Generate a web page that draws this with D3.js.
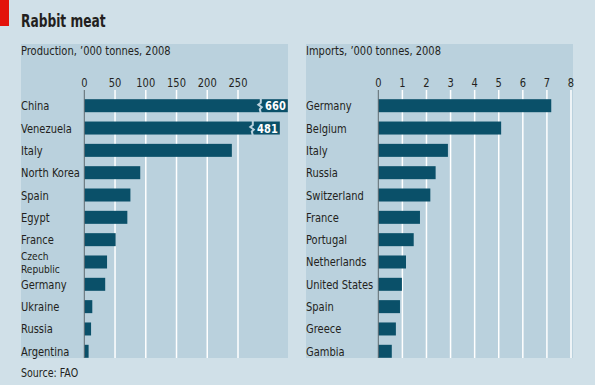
<!DOCTYPE html>
<html>
<head>
<meta charset="utf-8">
<script src="https://cdn.jsdelivr.net/npm/d3@7"></script>
<style>
  body { margin: 0; background: #d0e0e8; }
  svg { display: block; }
  text { font-family: "DejaVu Sans Condensed", "DejaVu Sans", sans-serif; font-stretch: condensed; fill: #231f20; }
</style>
</head>
<body>
<div id="chart"></div>
<script>
// Production, '000 tonnes, 2008
var prodCountries = ["China", "Venezuela", "Italy", "North Korea", "Spain", "Egypt",
  "France", "Czech Republic", "Germany", "Ukraine", "Russia", "Argentina"];
var prodValues = [660, 481, 240, 91, 75, 70, 51, 37, 34, 13, 11, 7];
var prodTicks = [0, 50, 100, 150, 200, 250];
// bars that are too long get cut off and labelled (shown length in data units)
var prodBroken = { "China": 331, "Venezuela": 318 };

// Imports, '000 tonnes, 2008
var impCountries = ["Germany", "Belgium", "Italy", "Russia", "Switzerland", "France",
  "Portugal", "Netherlands", "United States", "Spain", "Greece", "Gambia"];
var impValues = [7.18, 5.1, 2.89, 2.38, 2.16, 1.73, 1.47, 1.15, 0.98, 0.9, 0.73, 0.56];
var impTicks = [0, 1, 2, 3, 4, 5, 6, 7, 8];

var width = 595, height = 385;
var barColor = "#0a5069";
var panelColor = "#bad1dd";
var fs = "12px";
var squeeze = 0.92; // text is a bit narrower than the condensed font

var svg = d3.select("#chart").append("svg")
  .attr("width", width)
  .attr("height", height);

// put a text at x,y and squeeze it horizontally
function place(sel, x, y, sx) {
  return sel.attr("transform", "translate(" + x + "," + y + ") scale(" + (sx || squeeze) + ",1)");
}

// red tag + title
svg.append("rect").attr("x", 0).attr("y", 0).attr("width", 9).attr("height", 26).attr("fill", "#e3120b");
place(svg.append("text"), 21, 27, 0.8)
  .attr("font-size", "17px").attr("font-weight", "bold")
  .text("Rabbit meat");

place(svg.append("text"), 21, 377)
  .attr("font-size", "11.5px")
  .text("Source: FAO");

function drawPanel(opts) {
  var g = svg.append("g");

  // panel background
  g.append("rect")
    .attr("x", opts.left).attr("y", 44)
    .attr("width", opts.right - opts.left).attr("height", 358 - 44)
    .attr("fill", panelColor);

  place(g.append("text"), opts.left, 55)
    .attr("font-size", fs)
    .text(opts.title);

  var x = d3.scaleLinear().domain(opts.domain).range(opts.range);
  var y = d3.scalePoint().domain(opts.countries).range([105.7, 351.3]);
  var barH = 13;

  // gridlines
  g.selectAll(".grid")
    .data(opts.ticks.filter(function (t) { return t !== 0; }))
    .enter()
    .append("line")
    .attr("x1", function (d) { return x(d); })
    .attr("x2", function (d) { return x(d); })
    .attr("y1", 90).attr("y2", 358)
    .attr("stroke", "#ffffff")
    .attr("stroke-width", 1.5);

  // tick labels
  g.selectAll(".tick")
    .data(opts.ticks)
    .enter()
    .append("text")
    .attr("transform", function (d) { return "translate(" + x(d) + ",87) scale(" + squeeze + ",1)"; })
    .attr("text-anchor", "middle")
    .attr("font-size", fs)
    .text(function (d) { return d; });

  var data = opts.countries.map(function (c, i) {
    return { name: c, value: opts.values[i] };
  });

  // bars
  g.selectAll(".bar")
    .data(data)
    .enter()
    .append("rect")
    .attr("x", x(0))
    .attr("y", function (d) { return y(d.name) - barH / 2; })
    .attr("width", function (d) {
      var shown = opts.broken && opts.broken[d.name] ? opts.broken[d.name] : d.value;
      return x(shown) - x(0);
    })
    .attr("height", barH)
    .attr("fill", barColor);

  // breaks for cut-off bars
  if (opts.broken) {
    var broken = data.filter(function (d) { return opts.broken[d.name]; });
    broken.forEach(function (d) {
      var end = x(opts.broken[d.name]);
      var bx = end - 27;
      var cy = y(d.name);
      var zig = d3.line()([
        [bx, cy - barH / 2 - 1], [bx, cy - 3], [bx - 2.5, cy - 1],
        [bx + 1, cy + 1.5], [bx - 1, cy + 3.5], [bx, cy + barH / 2 + 1]
      ]);
      g.append("path").attr("d", zig)
        .attr("fill", "none").attr("stroke", panelColor).attr("stroke-width", 2);
      place(g.append("text"), end - 2, cy + 4.5)
        .attr("text-anchor", "end")
        .attr("font-size", fs).attr("font-weight", "bold")
        .style("fill", "#ffffff")
        .text(d.value);
    });
  }

  // zero line
  g.append("line")
    .attr("x1", x(0)).attr("x2", x(0))
    .attr("y1", 90).attr("y2", 358)
    .attr("stroke", "#5e6a70").attr("stroke-width", 1);

  // country labels
  g.selectAll(".label")
    .data(data)
    .enter()
    .append("text")
    .attr("transform", function (d) { return "translate(" + opts.left + "," + (y(d.name) + 4.5) + ") scale(" + squeeze + ",1)"; })
    .attr("font-size", fs)
    .each(function (d) {
      var t = d3.select(this);
      if (d.name === "Czech Republic") {
        // two short lines, slightly smaller so they don't collide
        t.attr("font-size", "11px");
        t.append("tspan").attr("x", 0).attr("dy", -6.5).text("Czech");
        t.append("tspan").attr("x", 0).attr("dy", 13).text("Republic");
      } else {
        t.text(d.name);
      }
    });
}

drawPanel({
  left: 21, right: 288,
  title: "Production, \u2019000 tonnes, 2008",
  countries: prodCountries, values: prodValues, ticks: prodTicks,
  domain: [0, 250], range: [84.3, 238],
  broken: prodBroken
});

drawPanel({
  left: 306, right: 573,
  title: "Imports, \u2019000 tonnes, 2008",
  countries: impCountries, values: impValues, ticks: impTicks,
  domain: [0, 8], range: [378.3, 571]
});
</script>
</body>
</html>
